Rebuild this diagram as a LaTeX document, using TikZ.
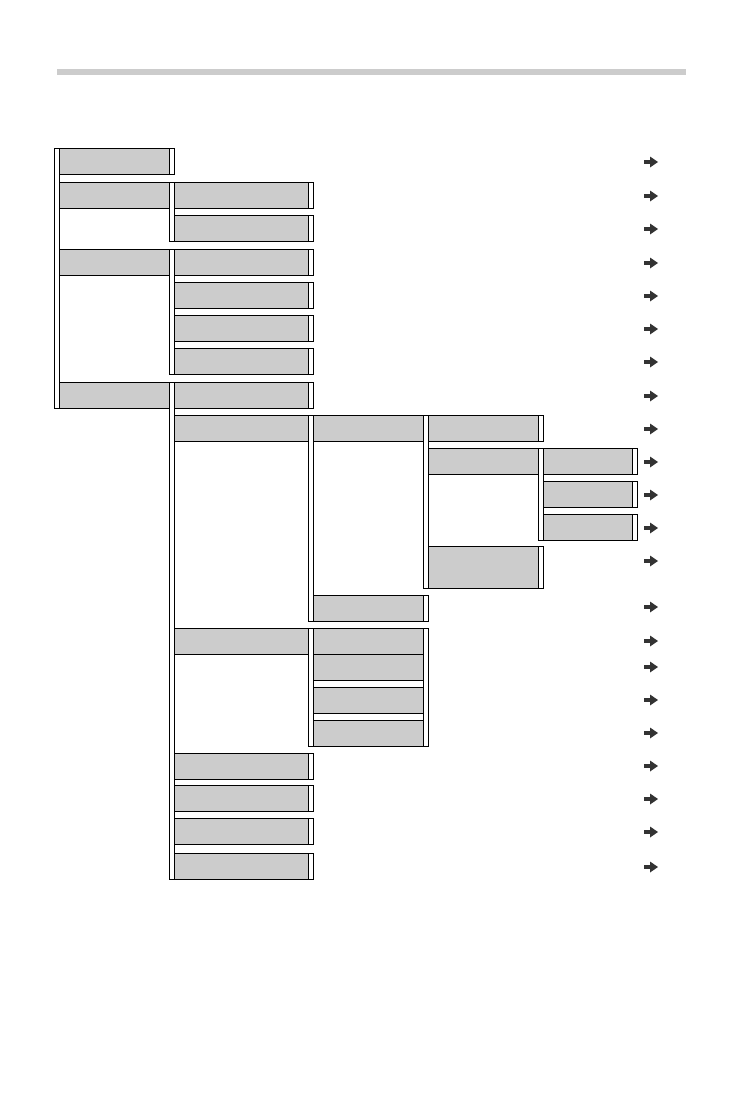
\documentclass[tikz,border=0pt]{standalone}
\usepackage{tikz}
\usetikzlibrary{positioning,calc}
\definecolor{MenuGray}{HTML}{CCCCCC}
\definecolor{ArrowDark}{HTML}{333333}
\tikzset{
  mbox/.style={draw=black, fill=MenuGray, line width=0.9pt, inner sep=0pt, outer sep=0pt,
               anchor=north west, minimum height=26pt},
  lvla/.style={mbox, minimum width=110pt},
  lvlb/.style={mbox, minimum width=134pt},
  lvlc/.style={mbox, minimum width=110pt},
  lvld/.style={mbox, minimum width=110pt},
  lvle/.style={mbox, minimum width=89pt},
  brk/.style={draw=black, fill=white, line width=0.9pt},
  menuarrow/.pic={
    \fill[ArrowDark] (-7,-1.6) rectangle (0,1.6);
    \fill[ArrowDark] (-1,-5.5) -- (7,0) -- (-1,5.5) -- cycle;
  }
}

\begin{document}
\begin{tikzpicture}[x=1pt, y=-1pt]
\useasboundingbox (0,0) rectangle (743,1105);
\fill[MenuGray] (57,69) rectangle (686,75);

\node[lvla] (A) at (59,148) {};
\node[lvla] (B) at (59,182) {};
\node[lvla] (C) at (59,249) {};
\node[lvla] (D) at (59,382) {};

\node[lvlb] (B1) at (174,182) {};
\node[lvlb] (B2) at (174,215) {};
\node[lvlb] (C1) at (174,249) {};
\node[lvlb] (C2) at (174,282) {};
\node[lvlb] (C3) at (174,315) {};
\node[lvlb] (C4) at (174,348) {};
\node[lvlb] (D1) at (174,382) {};
\node[lvlb] (D2) at (174,415) {};
\node[lvlb] (D3) at (174,628) {};
\node[lvlb] (D4) at (174,753) {};
\node[lvlb] (D5) at (174,785) {};
\node[lvlb] (D6) at (174,818) {};
\node[lvlb] (D7) at (174,853) {};

\node[lvlc] (E1) at (313,415) {};
\node[lvlc] (E2) at (313,595) {};
\node[lvlc] (F1) at (313,628) {};
\node[lvlc] (F2) at (313,654) {};
\node[lvlc] (F3) at (313,687) {};
\node[lvlc] (F4) at (313,720) {};

\node[lvld] (G1) at (428,415) {};
\node[lvld] (G2) at (428,448) {};
\node[lvld, minimum height=42pt] (G3) at (428,546) {};

\node[lvle] (H1) at (543,448) {};
\node[lvle] (H2) at (543,481) {};
\node[lvle] (H3) at (543,514) {};

\draw[brk] ([xshift=-5pt]A.north west) rectangle (D.south west);
\draw[brk] (B.north east) rectangle (B2.south west);
\draw[brk] (C.north east) rectangle (C4.south west);
\draw[brk] (D.north east) rectangle (D7.south west);
\draw[brk] (D2.north east) rectangle (E2.south west);
\draw[brk] (D3.north east) rectangle (F4.south west);
\draw[brk] (E1.north east) rectangle (G3.south west);
\draw[brk] (G2.north east) rectangle (H3.south west);
\draw[brk] (F1.north east) rectangle ([xshift=5pt]F4.south east);
\foreach \b in {A,B1,B2,C1,C2,C3,C4,D1,D4,D5,D6,D7,E2,G1,G3,H1,H2,H3}
  \draw[brk] (\b.north east) rectangle ([xshift=5pt]\b.south east);

\foreach \y in {162,196,229,263,296,329,362,396,429,462,495,528,561,607,641,667,700,733,766,799,832,867}
  \pic at (651,\y) {menuarrow};
\end{tikzpicture}
\end{document}
